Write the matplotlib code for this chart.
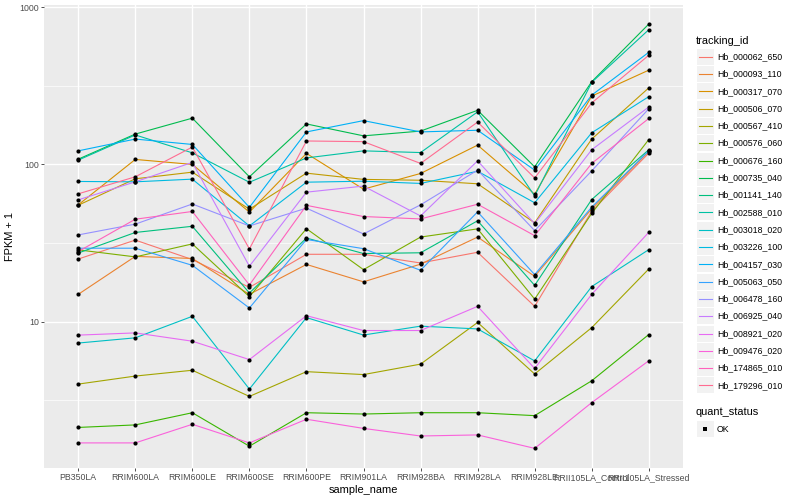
import matplotlib
matplotlib.use("Agg")
import matplotlib.pyplot as plt
import numpy as np

plt.rcParams['font.family'] = ['Liberation Sans', 'DejaVu Sans']

samples = ['PB350LA', 'RRIM600LA', 'RRIM600LE', 'RRIM600SE', 'RRIM600PE', 'RRIM901LA',
           'RRIM928BA', 'RRIM928LA', 'RRIM928LE', 'RRII105LA_Control', 'RRII105LA_Stressed']

tracking_ids = ['Hb_000062_650', 'Hb_000093_110', 'Hb_000317_070', 'Hb_000506_070', 'Hb_000567_410',
                'Hb_000576_060', 'Hb_000676_160', 'Hb_000735_040', 'Hb_001141_140', 'Hb_002588_010',
                'Hb_003018_020', 'Hb_003226_100', 'Hb_004157_030', 'Hb_005063_050', 'Hb_006478_160',
                'Hb_006925_040', 'Hb_008921_020', 'Hb_009476_020', 'Hb_174865_010', 'Hb_179296_010']

# ggplot hue palette, 20 levels
colors = ['#F8766D', '#EA8331', '#D89000', '#C09B00', '#A3A500', '#7CAE00', '#39B600', '#00BB4E',
          '#00BF7D', '#00C1A3', '#00BFC4', '#00BAE0', '#00B0F6', '#35A2FF', '#9590FF', '#C77CFF',
          '#E76BF3', '#FA62DB', '#FF62BC', '#FF6C91']

# FPKM + 1, one list per tracking_id, in sample order
fpkm = {
    'Hb_000062_650': [25.0, 33.0, 24.8, 16.5, 26.8, 26.8, 23.6, 27.6, 12.5, 50.4, 118],
    'Hb_000093_110': [14.9, 26.0, 25.2, 14.9, 23.1, 17.9, 23.2, 34.5, 19.4, 52.2, 121],
    'Hb_000317_070': [55.3, 107.6, 100, 49.7, 117.5, 69.6, 87.6, 132.7, 64.7, 272, 398],
    'Hb_000506_070': [55.0, 81.0, 89.3, 51.9, 88.0, 80.3, 79.3, 75.3, 42.5, 145, 307],
    'Hb_000567_410': [4.0, 4.5, 4.9, 3.34, 4.8, 4.6, 5.36, 9.87, 4.64, 9.15, 21.6],
    'Hb_000576_060': [28.6, 25.8, 31.2, 14.4, 39.0, 21.4, 34.5, 38.9, 13.9, 48.8, 144],
    'Hb_000676_160': [2.12, 2.2, 2.63, 1.61, 2.63, 2.58, 2.63, 2.63, 2.52, 4.2, 8.27],
    'Hb_000735_040': [108, 156, 197, 83.4, 181, 152, 163, 221, 96.5, 336, 782],
    'Hb_001141_140': [27.3, 36.9, 40.4, 15.2, 34.0, 27.1, 27.4, 43.8, 17.0, 59.8, 124],
    'Hb_002588_010': [106.5, 154, 118.5, 77.0, 110, 122, 119, 216, 63.0, 333, 720],
    'Hb_003018_020': [7.3, 7.88, 10.8, 3.72, 10.6, 8.21, 9.35, 8.98, 5.62, 16.7, 28.7],
    'Hb_003226_100': [77.9, 77.5, 80.6, 40.6, 77.1, 78.2, 75.7, 90.5, 57.0, 159, 270],
    'Hb_004157_030': [122, 145, 134, 53.3, 161, 190, 161, 165, 92.0, 276, 517],
    'Hb_005063_050': [29.3, 29.3, 22.8, 12.2, 33.3, 29.1, 21.2, 49.9, 19.9, 53.5, 122],
    'Hb_006478_160': [35.6, 41.7, 56.0, 40.6, 52.7, 36.1, 55.3, 92.0, 37.9, 91.0, 226],
    'Hb_006925_040': [59.5, 77.5, 103, 22.5, 66.6, 72.8, 47.0, 105.4, 42.0, 124, 232],
    'Hb_008921_020': [8.2, 8.47, 7.5, 5.73, 10.9, 8.77, 8.77, 12.5, 5.03, 14.9, 37.0],
    'Hb_009476_020': [1.69, 1.69, 2.22, 1.69, 2.39, 2.09, 1.87, 1.9, 1.56, 3.05, 5.63],
    'Hb_174865_010': [27.9, 44.8, 50.2, 17.1, 54.9, 46.6, 45.0, 55.8, 35.2, 101.5, 196],
    'Hb_179296_010': [65.0, 83.4, 129, 29.0, 141, 139.6, 101.5, 186, 82.0, 246, 495],
}

W, H = 800, 500
fig = plt.figure(figsize=(8, 5), dpi=100)
L, R, T, B = 44, 683, 5, 468
ax = fig.add_axes([L / W, 1 - B / H, (R - L) / W, (B - T) / H])
ax.set_facecolor('#EBEBEB')
for s in ax.spines.values():
    s.set_visible(False)

x = np.arange(len(samples))
for tid, col in zip(tracking_ids, colors):
    ax.plot(x, fpkm[tid], color=col, lw=0.8, zorder=3)
for tid in tracking_ids:
    ax.plot(x, fpkm[tid], 'o', color='black', ms=3.0, mew=0, zorder=4)

ax.set_yscale('log')
ax.set_ylim(1.17, 1034)
ax.set_xlim(-0.6, len(samples) - 0.4)
ax.set_yticks([10, 100, 1000])
ax.set_yticklabels(['10', '100', '1000'])
ax.set_yticks([10 ** 0.5, 10 ** 1.5, 10 ** 2.5], minor=True)
ax.yaxis.set_minor_formatter(matplotlib.ticker.NullFormatter())
ax.tick_params(axis='y', which='minor', length=0)
ax.set_xticks(x)
ax.set_xticklabels(samples)
ax.tick_params(axis='both', which='major', length=2, width=0.6, color='#333333',
               labelsize=6.3, labelcolor='#4D4D4D', pad=1.5)
ax.grid(True, which='major', color='white', lw=1.0)
ax.grid(True, which='minor', axis='y', color='white', lw=0.5)
ax.set_axisbelow(True)

ax.set_xlabel('sample_name', fontsize=7.9, labelpad=2)
ax.set_ylabel('FPKM + 1', fontsize=7.9, labelpad=3)

# legend drawn in pixel coordinates on an overlay
lax = fig.add_axes([0, 0, 1, 1])
lax.set_xlim(0, W)
lax.set_ylim(H, 0)
lax.axis('off')
lax.patch.set_alpha(0)

lax.text(696, 40.5, 'tracking_id', fontsize=7.9, va='center', ha='left')
key_y0, key_dy = 56.7, 17.3
for i, (tid, col) in enumerate(zip(tracking_ids, colors)):
    yc = key_y0 + i * key_dy
    lax.add_patch(plt.Rectangle((697, yc - 8), 16.5, 16, color='#F2F2F2', lw=0))
    lax.plot([698.5, 711.5], [yc, yc], color=col, lw=0.8)
    lax.text(717, yc, tid, fontsize=6.3, va='center', ha='left')

lax.text(696, 412, 'quant_status', fontsize=7.9, va='center', ha='left')
lax.add_patch(plt.Rectangle((697, 421), 16.5, 16, color='#F2F2F2', lw=0))
lax.plot([705.2], [429], 's', color='black', ms=2.6, mew=0)
lax.text(717, 429, 'OK', fontsize=6.3, va='center', ha='left')

fig.savefig('out.png', dpi=100)
